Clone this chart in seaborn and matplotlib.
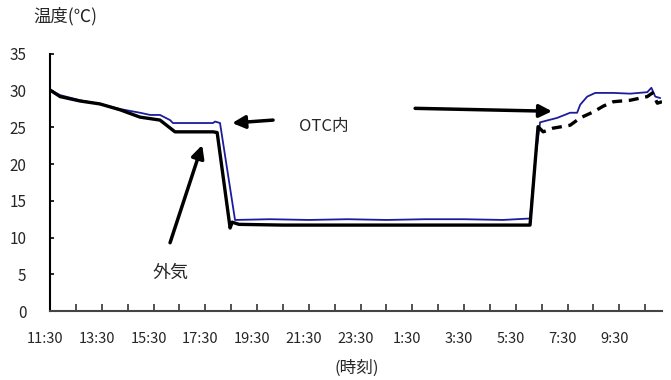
import matplotlib
matplotlib.use("Agg")
import matplotlib.pyplot as plt
import matplotlib.transforms as mtransforms
import seaborn as sns
import pandas as pd

# hours elapsed since 11:30
otc_hours = [0, 0.39, 1.16, 1.93, 2.71, 3.48, 3.87, 4.25, 4.64, 4.75, 6.30, 6.38, 6.57,
             7.15, 8.5, 10.0, 11.5, 13.0, 14.5, 16.0, 17.5, 18.55, 18.75, 18.94, 19.60,
             20.10, 20.37, 20.49, 20.76, 21.07, 21.77, 22.42, 23.08, 23.24, 23.39, 23.58]
otc_temp = [30.1, 29.4, 28.7, 28.2, 27.5, 27.0, 26.7, 26.7, 26.0, 25.6, 25.6, 25.8, 25.6,
            12.4, 12.5, 12.4, 12.5, 12.4, 12.5, 12.5, 12.4, 12.6, 20.6, 25.7, 26.3,
            27.0, 27.0, 28.1, 29.2, 29.7, 29.7, 29.6, 29.8, 30.4, 29.2, 29.0]

out_hours = [0, 0.39, 1.16, 1.93, 2.71, 3.48, 3.87, 4.25, 4.83, 6.30, 6.46, 6.96, 7.04,
             7.3, 9.0, 11.0, 13.0, 15.0, 17.0, 18.55, 18.67, 18.86, 19.06, 19.44, 20.10,
             20.49, 20.99, 21.38, 21.77, 22.42, 23.08, 23.28, 23.47, 23.65]
out_temp = [30.1, 29.2, 28.6, 28.2, 27.4, 26.4, 26.2, 26.0, 24.4, 24.4, 24.3, 11.3, 12.1,
            11.8, 11.7, 11.7, 11.7, 11.7, 11.7, 11.7, 16.9, 25.1, 24.4, 24.9, 25.3,
            26.3, 27.1, 27.9, 28.5, 28.7, 29.2, 29.7, 28.3, 28.5]

tick_hours = list(range(0, 24))
tick_labels = ["11:30", "", "13:30", "", "15:30", "", "17:30", "", "19:30", "", "21:30", "",
               "23:30", "", "1:30", "", "3:30", "", "5:30", "", "7:30", "", "9:30", ""]
y_ticks = [0, 5, 10, 15, 20, 25, 30, 35]

sns.set_theme(style="white")
plt.rcParams["font.family"] = ["Noto Sans CJK JP", "DejaVu Sans"]

fig = plt.figure(figsize=(6.71, 3.80), dpi=100)
ax = fig.add_axes([50 / 671, 1 - 311 / 380, (662 - 50) / 671, (311 - 54) / 380])

df_otc = pd.DataFrame({"h": otc_hours, "t": otc_temp})
df_out = pd.DataFrame({"h": out_hours, "t": out_temp})
split = 21  # index where the outside record becomes broken/dashed
sns.lineplot(data=df_otc, x="h", y="t", ax=ax, color="#1c1c9c", lw=1.3, estimator=None, sort=False)
sns.lineplot(data=df_out.iloc[:split + 1], x="h", y="t", ax=ax, color="black", lw=2.4,
             estimator=None, sort=False)
sns.lineplot(data=df_out.iloc[split:], x="h", y="t", ax=ax, color="black", lw=2.4,
             estimator=None, sort=False, linestyle=(0, (3, 2)))

ax.set_xlim(0, 23.65)
ax.set_ylim(0, 35)
ax.set_xticks(tick_hours)
ax.set_xticklabels(tick_labels, fontsize=10.5)
ax.set_yticks(y_ticks)
ax.set_yticklabels([str(v) for v in y_ticks], fontsize=11)
ax.tick_params(axis="x", direction="in", length=5, width=1.2, color="#333333", pad=15)
ax.tick_params(axis="y", direction="in", length=3, width=1.2, color="black", pad=17)
ax.tick_params(axis="x", bottom=True)
ax.tick_params(axis="y", left=True)
offset = mtransforms.ScaledTranslation(-5 / 100, 0, fig.dpi_scale_trans)
for lab in ax.get_xticklabels():
    lab.set_transform(lab.get_transform() + offset)

for s in ["top", "right"]:
    ax.spines[s].set_visible(False)
ax.spines["left"].set_color("black")
ax.spines["left"].set_linewidth(1.5)
ax.spines["bottom"].set_color("#444444")
ax.spines["bottom"].set_linewidth(1.5)
ax.set_xlabel("")
ax.set_ylabel("")
ax.grid(False)

arrow = dict(arrowstyle="-|>", lw=2.5, color="black", mutation_scale=19, shrinkA=0, shrinkB=0)
ax.annotate("", xy=(7.04, 25.6), xytext=(8.62, 26.0), arrowprops=arrow)
ax.annotate("", xy=(19.4, 27.2), xytext=(14.11, 27.6), arrowprops=arrow)
ax.annotate("", xy=(5.88, 22.6), xytext=(4.64, 9.3), arrowprops=arrow)

ax.text(10.6, 25.1, "OTC内", fontsize=12, ha="center", va="center")
ax.text(4.64, 5.2, "外気", fontsize=13, ha="center", va="center")

fig.text(33 / 671, 1 - 16 / 380, "温度(℃)", fontsize=12.5, ha="left", va="center")
fig.text(357 / 671, 1 - 368 / 380, "(時刻)", fontsize=12, ha="center", va="center")

fig.savefig("out.png", dpi=100)
